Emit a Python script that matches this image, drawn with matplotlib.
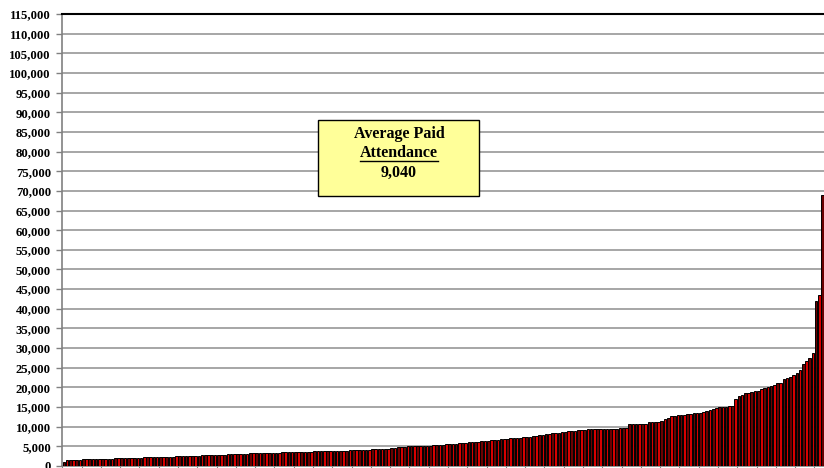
import numpy as np
import matplotlib
matplotlib.use("Agg")
import matplotlib.pyplot as plt
from matplotlib.patches import Rectangle
from matplotlib.ticker import FuncFormatter

# paid attendance per club, sorted low to high
attendance = [
    1100,
    1450, 1500, 1550, 1600, 1650, 1680, 1700, 1720, 1750, 1780,
    1800, 1820, 1850, 1880, 1900, 1950, 1980, 2000, 2020, 2050,
    2080, 2100, 2120, 2150, 2170, 2200, 2220, 2250, 2280, 2300,
    2320, 2350, 2380, 2400, 2420, 2450, 2480, 2500, 2550, 2580,
    2600, 2650, 2700,
    2720, 2750, 2780, 2800, 2850, 2900,
    2920, 2950, 2980, 3000, 3050, 3080, 3100, 3150, 3200,
    3220, 3250, 3280, 3300, 3320, 3350, 3380, 3400, 3420, 3450, 3480, 3500, 3550,
    3570, 3600, 3620, 3650, 3660, 3680, 3700, 3720, 3730, 3750, 3760, 3780, 3790, 3800, 3820,
    3850, 3900, 3950, 3980, 4000, 4050, 4080, 4100, 4150, 4200,
    4250, 4300, 4350, 4400, 4450, 4500, 4600, 4750, 4900,
    4950, 4980, 5000, 5000, 5020, 5050,
    5100, 5150, 5200, 5220, 5250, 5300,
    5400, 5500, 5550, 5600, 5700, 5800, 5900,
    5950, 6000, 6100, 6150, 6200, 6300,
    6350, 6400, 6500, 6600, 6700, 6800,
    6850, 6900, 7000, 7050, 7100, 7200,
    7300, 7400, 7500, 7600, 7750, 7900,
    8000, 8100, 8200, 8300, 8400, 8500, 8600,
    8700, 8800, 8900, 9000, 9100, 9200,
    9250, 9300, 9300, 9350, 9400, 9400,
    9400, 9450, 9450, 9500, 9500, 9550, 9600, 9700,
    10700, 10700, 10750, 10750, 10800, 10800,
    11100, 11200, 11250, 11300, 11400,
    12000, 12300, 12600,
    12800, 12900, 13000, 13050,
    13200, 13300, 13400, 13500,
    13600, 13800, 14000, 14200, 14500, 14700,
    15000, 15100, 15100, 15200, 15300,
    17000, 17800, 18100, 18500, 18700,
    18900, 19000, 19200, 19500, 19800,
    20000, 20400, 20700, 21000, 21200,
    22100, 22400, 22600, 23200, 23600,
    24400, 26000, 26600, 27500, 28700,
    42000, 43500, 69000,
]
avg_label = "9,040"
y_ticks = np.arange(0, 115001, 5000)

fig = plt.figure(figsize=(8.24, 4.68), dpi=100)
W, H = 824, 468
# plot area runs off the right edge of the figure
ax = fig.add_axes([62 / W, 2 / H, (828 - 62) / W, (466 - 14) / H])

x = np.arange(len(attendance))
colors = ["#d80000" if i % 2 else "#6a0000" for i in x]
ax.bar(x, attendance, width=0.82, color=colors, edgecolor="black", linewidth=0.7, zorder=3)

ax.set_xlim(-0.6, 237.7)
ax.set_ylim(0, 115000)
ax.set_yticks(y_ticks)
ax.yaxis.set_major_formatter(FuncFormatter(lambda v, p: f"{int(v):,}"))
ax.set_xticks(np.arange(-0.5, len(attendance), 6))
ax.set_xticklabels([])

ax.grid(axis="y", color="#a6a6a6", linewidth=1.4, zorder=0)
ax.tick_params(axis="y", length=4, color="#808080", width=1, pad=4)
ax.tick_params(axis="x", length=3, color="#808080", width=0.8, direction="out")
for lbl in ax.get_yticklabels():
    lbl.set_fontfamily("Liberation Serif")
    lbl.set_fontweight("bold")
    lbl.set_fontsize(9.2)

ax.spines["right"].set_visible(False)
ax.spines["top"].set_color("black")
ax.spines["top"].set_linewidth(1.5)
ax.spines["left"].set_color("#808080")
ax.spines["left"].set_linewidth(1.2)
ax.spines["bottom"].set_color("#808080")
ax.spines["bottom"].set_linewidth(1.2)

# average attendance callout
box = Rectangle((318 / W, 1 - 196 / H), 161 / W, 76 / H, transform=fig.transFigure,
                facecolor="#ffff99", edgecolor="black", linewidth=1.0, zorder=5)
fig.patches.append(box)
txt = dict(ha="center", va="center", fontfamily="Liberation Serif", fontweight="bold",
           fontsize=11.5, transform=fig.transFigure, zorder=6)
fig.text(399 / W, 1 - 134 / H, "Average Paid", **txt)
fig.text(399 / W, 1 - 153 / H, "Attendance", **txt)
fig.text(399 / W, 1 - 173 / H, avg_label, **txt)
fig.add_artist(plt.Line2D([360 / W, 438 / W], [1 - 161 / H, 1 - 161 / H],
                          transform=fig.transFigure, color="black", linewidth=1.0, zorder=6))

fig.savefig("out.png", dpi=100)
